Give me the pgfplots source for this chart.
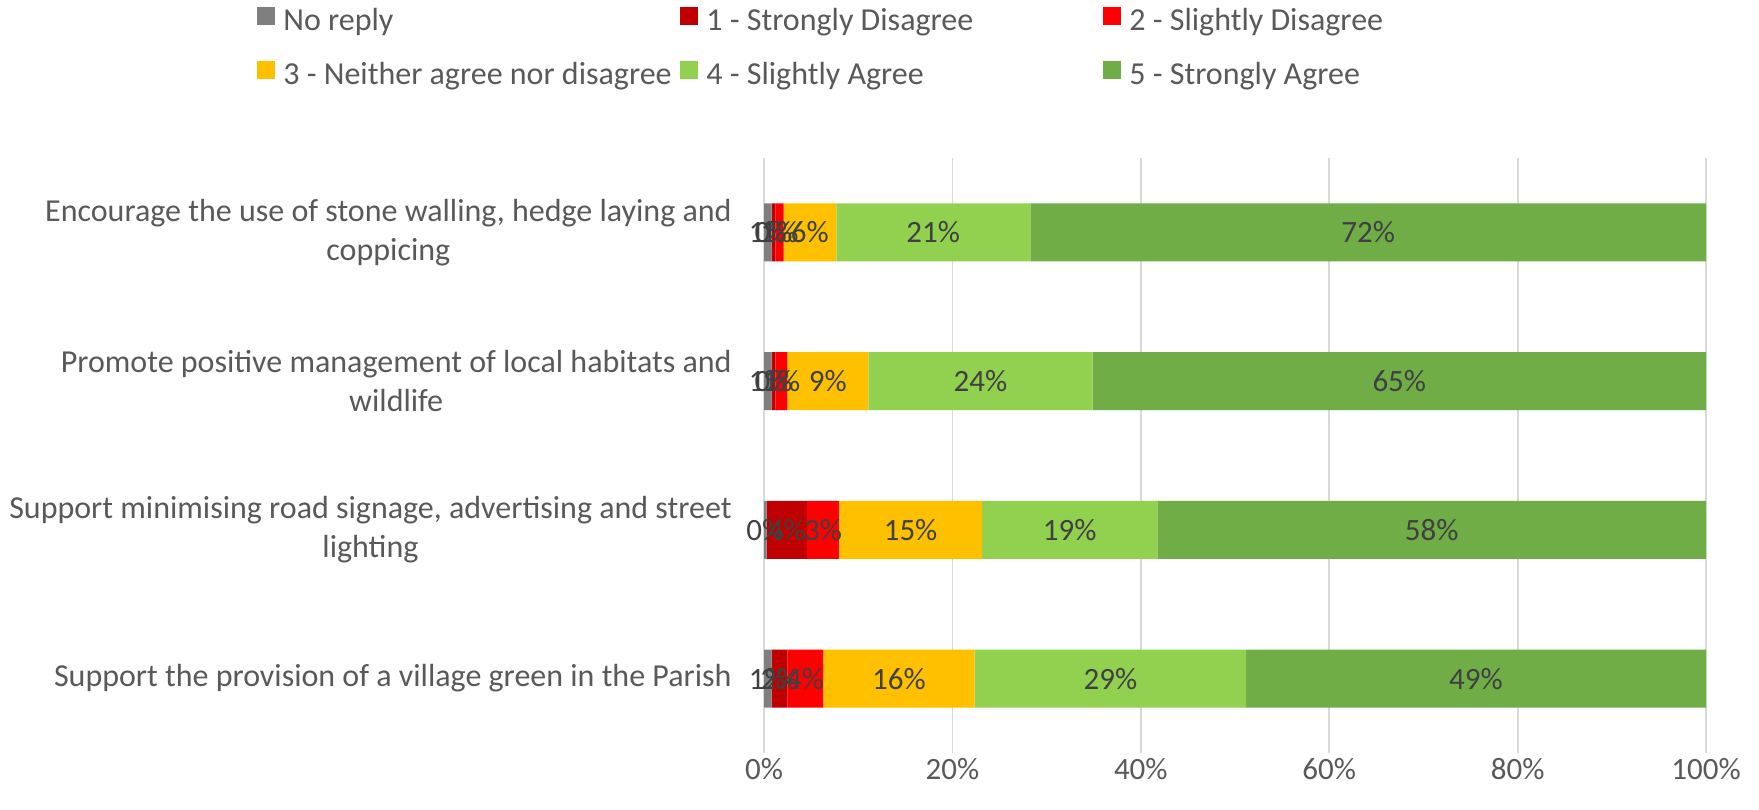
\documentclass[border=0pt]{standalone}
\usepackage{pgfplots}
\pgfplotsset{compat=1.18}
\usepackage{pgfplotstable}
\usepackage{fontspec}
\setmainfont{Carlito}
\definecolor{cNo}{HTML}{7F7F7F}
\definecolor{cSD}{HTML}{C00000}
\definecolor{cSlD}{HTML}{FF0000}
\definecolor{cN}{HTML}{FFC000}
\definecolor{cSlA}{HTML}{92D050}
\definecolor{cSA}{HTML}{70AD47}
\definecolor{txt}{HTML}{595959}
\definecolor{lbl}{HTML}{404040}
\definecolor{gridc}{HTML}{D9D9D9}

\pgfplotstableread{
idx noreply sd sld neither sla sa
0 0.80 0.42 0.85 5.60 20.60 71.73
1 0.82 0.39 1.27 8.60 23.80 65.12
2 0.28 4.28 3.40 15.20 18.60 58.24
3 0.82 1.65 3.80 16.10 28.80 48.83
}\data

\newcommand\legtxt[1]{\makebox[202.5pt][l]{\hspace{4pt}\rule[-4pt]{0pt}{16pt}#1}}

\begin{document}
\begin{tikzpicture}
\useasboundingbox (0,0) rectangle (879.5pt,404.5pt);
\begin{axis}[
  at={(382pt,28pt)}, anchor=south west,
  scale only axis, width=471pt, height=297.5pt,
  xbar stacked, bar width=29pt,
  xmin=0, xmax=100, ymin=-0.5, ymax=3.5, y dir=reverse,
  axis line style={draw=none},
  major tick length=0pt,
  xmajorgrids, grid style={gridc, line width=0.9pt},
  xtick={0,20,40,60,80,100},
  xticklabels={0\%,20\%,40\%,60\%,80\%,100\%},
  xticklabel style={anchor=base, inner sep=0pt, yshift=-13pt, text=txt, font=\fontsize{15.5}{18}\selectfont},
  ytick={0,1,2,3},
  yticklabels={{Encourage the use of stone walling, hedge laying and\\coppicing},
               {Promote positive management of local habitats and\\wildlife},
               {Support minimising road signage, advertising and street\\lighting},
               {Support the provision of a village green in the Parish}},
  yticklabel style={align=center, anchor=east, inner sep=0pt, xshift=-16pt, text=txt, font=\fontsize{16}{19.5}\selectfont},
  /pgf/number format/assume math mode=true,
  visualization depends on=rawx \as \rawx,
  nodes near coords={\pgfmathprintnumber[fixed,precision=0,assume math mode=true]{\rawx}\%},
  every node near coord/.append style={anchor=center, text=lbl, font=\fontsize{15.5}{18}\selectfont},
  legend columns=3,
  legend style={at={(axis description cs:0,1)}, anchor=north west, xshift=-253.5pt, yshift=75.9pt,
    draw=none, fill=none, inner sep=0pt, row sep=13.3pt, column sep=0pt,
    nodes={inner sep=0pt, text=txt, font=\fontsize{16}{19}\selectfont}},
  legend image code/.code={\fill[#1] (0pt,-2.5pt) rectangle (9pt,6.5pt);},
]
\addplot[fill=cNo, draw=none] table[x=noreply, y=idx]{\data};
\addplot[fill=cSD, draw=none] table[x=sd, y=idx]{\data};
\addplot[fill=cSlD, draw=none] table[x=sld, y=idx]{\data};
\addplot[fill=cN, draw=none] table[x=neither, y=idx]{\data};
\addplot[fill=cSlA, draw=none] table[x=sla, y=idx]{\data};
\addplot[fill=cSA, draw=none] table[x=sa, y=idx]{\data};
\legend{\legtxt{No reply},\legtxt{1 - Strongly Disagree},\legtxt{2 - Slightly Disagree},\legtxt{3 - Neither agree nor disagree},\legtxt{4 - Slightly Agree},\legtxt{5 - Strongly Agree}}
\end{axis}
\end{tikzpicture}
\end{document}
